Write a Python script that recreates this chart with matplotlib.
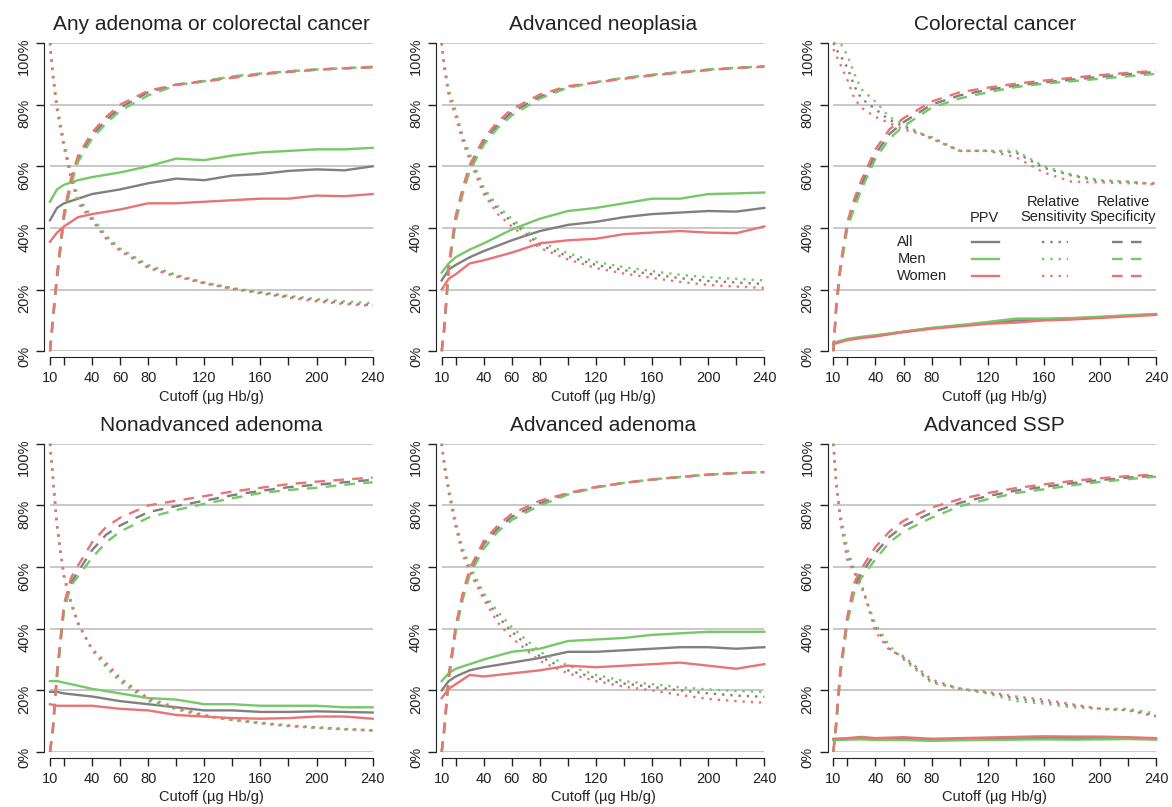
import matplotlib
matplotlib.use('Agg')
import matplotlib.pyplot as plt

plt.rcParams['font.family'] = ['Liberation Sans', 'DejaVu Sans']

# cutoffs (ug Hb/g) at which values were read
ss_cut = [10, 12, 15, 20, 25, 30, 40, 50, 60, 80, 100, 120, 140, 160, 180, 200, 220, 240]
ppv_cut = [10, 15, 20, 30, 40, 60, 80, 100, 120, 140, 160, 180, 200, 220, 240]

# Any adenoma or colorectal cancer
any_ppv_all = [42.5, 46.5, 48, 49.5, 51, 52.5, 54.5, 56, 55.5, 57, 57.5, 58.5, 59, 58.7, 60]
any_ppv_men = [48.5, 52.5, 54, 55.5, 56.5, 58, 60, 62.5, 62, 63.5, 64.5, 65, 65.5, 65.5, 66]
any_ppv_women = [35.5, 38.5, 40.5, 43.5, 44.5, 46, 48, 48, 48.5, 49, 49.5, 49.5, 50.5, 50.3, 51]
any_sens_all = [100, 90, 79, 67, 57, 49, 43, 37, 33, 27.5, 24.5, 22.2, 20.4, 19, 17.7, 16.6, 15.7, 15]
any_sens_men = [100, 91, 80, 68, 58, 50, 43.5, 37.5, 33.3, 28, 24.8, 22.3, 20.5, 19.2, 18, 17, 16.2, 15.6]
any_sens_women = [100, 89, 78, 66, 56, 48, 42.5, 36.5, 32.5, 27, 24.2, 22, 20.2, 18.8, 17.4, 16.2, 15.3, 14.7]
any_spec_all = [0, 10, 24, 44, 55, 62.5, 70, 75, 79, 84, 86.5, 87.7, 89, 90, 90.8, 91.4, 91.8, 92.2]
any_spec_men = [0, 9, 23, 43, 54, 61.5, 69, 74, 78, 83, 86.3, 87.6, 89.2, 90.1, 90.8, 91.4, 91.8, 92.3]
any_spec_women = [0, 11, 25, 45, 56, 63.5, 71, 76, 80, 84.5, 86.5, 87.5, 88.7, 89.8, 90.6, 91.3, 91.8, 92.1]

# Advanced neoplasia
neo_ppv_all = [23, 26.5, 28, 30.5, 32.5, 36, 39, 41, 42, 43.5, 44.5, 45, 45.5, 45.3, 46.5]
neo_ppv_men = [25.5, 28.5, 30.5, 33, 35, 39.5, 43, 45.5, 46.5, 48, 49.5, 49.5, 51, 51.2, 51.5]
neo_ppv_women = [20, 23.5, 25, 28.5, 29.5, 32, 35, 36, 36.5, 38, 38.5, 39, 38.5, 38.3, 40.5]
neo_sens_all = [100, 92, 84, 77, 69, 63, 52, 46, 42, 34.5, 30.8, 28, 26.3, 25, 23.7, 22.8, 22.3, 21.8]
neo_sens_men = [100, 93, 85, 78, 70, 64, 53, 47, 43, 35.5, 31.8, 29, 27.3, 26, 24.8, 24, 23.5, 23]
neo_sens_women = [100, 91, 83, 76, 68, 62, 51, 44.5, 40.5, 33.5, 29.8, 27, 25.2, 23.8, 22.5, 21.5, 21, 20.5]
neo_spec_all = [0, 8, 27, 43, 52, 59.5, 68, 73.5, 77.5, 82.6, 85.7, 87.3, 88.6, 89.6, 90.5, 91.3, 91.9, 92.4]
neo_spec_men = [0, 7, 26, 42, 51, 58.5, 67, 72.5, 76.5, 82, 85.5, 87.3, 88.7, 89.7, 90.6, 91.4, 92, 92.4]
neo_spec_women = [0, 9, 28, 44, 53, 60.5, 69, 74.5, 78.5, 83.3, 86, 87.2, 88.4, 89.5, 90.4, 91.2, 91.9, 92.3]

# Colorectal cancer
crc_ppv_all = [2.5, 3.2, 3.8, 4.5, 5, 6.3, 7.5, 8.3, 9.2, 10, 10.3, 10.6, 11, 11.5, 12]
crc_ppv_men = [2.7, 3.4, 4, 4.7, 5.2, 6.4, 7.6, 8.5, 9.5, 10.6, 10.6, 10.8, 11.2, 11.7, 12.1]
crc_ppv_women = [2.3, 3, 3.6, 4.3, 4.8, 6.2, 7.3, 8.1, 8.9, 9.3, 10, 10.3, 10.8, 11.3, 11.8]
crc_sens_all = [100, 98, 96, 92, 86, 82, 78.5, 75, 73, 69, 65, 65, 64.5, 59.5, 57, 55.2, 55, 54.3]
crc_sens_men = [100, 100, 100, 96, 90, 85, 81, 76, 73.5, 69, 65, 65, 65, 60, 57.3, 55.5, 55, 54]
crc_sens_women = [98, 96, 93, 88, 82, 79, 76, 74, 72, 69.5, 65, 65, 63, 58, 55, 54.8, 54.5, 54.5]
crc_spec_all = [0, 14, 27, 41, 48, 54, 64, 70.5, 74.3, 80, 83, 84.8, 86.2, 87.2, 88.1, 89, 89.9, 90.6]
crc_spec_men = [0, 13, 26, 40, 46.5, 52.5, 62.5, 69, 73, 79, 82, 84, 85.7, 86.8, 87.6, 88.4, 89.2, 90]
crc_spec_women = [0, 15, 28, 42, 49.5, 55.5, 65.5, 72, 75.6, 81, 84, 85.5, 86.8, 87.8, 88.7, 89.6, 90.3, 91]

# Nonadvanced adenoma
non_ppv_all = [19.5, 19.5, 19, 18.5, 18, 16.5, 15.5, 14.5, 13.5, 13.5, 13, 13, 13.2, 13, 12.8]
non_ppv_men = [23, 23, 22.5, 21.5, 20.5, 19, 17.5, 17, 15.5, 15.5, 15, 15, 15, 14.5, 14.5]
non_ppv_women = [15.5, 15, 15, 15, 15, 14, 13.5, 12, 11.5, 11, 10.8, 11, 11.5, 11.5, 10.8]
non_sens_all = [100, 89.5, 73.5, 57, 48.5, 41.8, 33.2, 28.2, 23.3, 17, 14.1, 11.8, 10.4, 9.4, 8.5, 7.9, 7.4, 7]
non_sens_men = [100, 90, 74, 57.5, 49, 42, 33, 27.5, 22.8, 16.5, 13.8, 11.6, 10.3, 9.3, 8.4, 7.8, 7.3, 7]
non_sens_women = [100, 89, 73, 56.5, 48, 41.5, 33.5, 29, 24, 17.5, 14.5, 12, 10.5, 9.5, 8.6, 8, 7.5, 7]
non_spec_all = [0, 7, 25, 47, 55, 58.5, 65.5, 70.5, 73.5, 77.8, 79.8, 81.5, 83.3, 84.7, 85.9, 86.7, 87.5, 88.3]
non_spec_men = [0, 6, 24, 46, 54, 57, 63, 68, 71.5, 76, 78.5, 80.5, 82.3, 84, 85, 85.7, 86.7, 87.5]
non_spec_women = [0, 8, 26, 48, 56.5, 60.5, 68, 73, 76, 80, 81.5, 83, 84.5, 85.7, 86.9, 87.7, 88.4, 89]

# Advanced adenoma
ada_ppv_all = [20, 23, 24.5, 26.5, 27.5, 29, 30.5, 32.5, 32.5, 33, 33.5, 34, 34, 33.5, 34]
ada_ppv_men = [23, 25.5, 27, 28.5, 30, 32.5, 33.5, 36, 36.5, 37, 38, 38.5, 39, 39, 39]
ada_ppv_women = [17.5, 20.5, 22, 25, 24.5, 25.5, 26.5, 28, 27.5, 28, 28.5, 29, 28, 27, 28.5]
ada_sens_all = [100, 93, 85, 74, 65, 59.5, 50.5, 44, 39, 31, 26.5, 24, 22.2, 21.1, 20, 19, 18.3, 17.9]
ada_sens_men = [100, 94, 86, 75, 66, 60.5, 51.5, 45.5, 40.5, 32.5, 28, 25, 23, 22, 21, 20.3, 19.8, 19.5]
ada_sens_women = [100, 92, 84, 73, 64, 58.5, 49.5, 42, 37, 29.5, 25.5, 23, 21.2, 20, 18.5, 17.2, 16.5, 16]
ada_spec_all = [0, 8, 24, 40, 50.5, 58.5, 67.5, 72.5, 76.3, 80.7, 83.8, 85.9, 87.3, 88.4, 89.2, 90, 90.5, 90.8]
ada_spec_men = [0, 7, 23, 39, 49.5, 57.5, 66, 71.5, 75.3, 80, 83.5, 85.8, 87.3, 88.4, 89.2, 90, 90.5, 90.8]
ada_spec_women = [0, 9, 25, 41, 51.5, 59.5, 68.5, 73.5, 77.3, 81.5, 84, 86, 87.3, 88.4, 89.2, 90, 90.5, 90.8]

# Advanced SSP
ssp_ppv_all = [4, 4.1, 4.2, 4.4, 4.2, 4.4, 4, 4.2, 4.3, 4.4, 4.6, 4.5, 4.5, 4.5, 4.2]
ssp_ppv_men = [3.8, 3.9, 4, 4.1, 3.9, 3.9, 3.6, 3.8, 3.9, 4, 4.1, 4, 4.1, 4.2, 4]
ssp_ppv_women = [4.3, 4.4, 4.5, 4.9, 4.5, 4.8, 4.3, 4.5, 4.7, 4.9, 5.1, 5, 5, 4.8, 4.5]
ssp_sens_all = [100, 88, 76, 64, 58.5, 54, 40.5, 33.5, 30.5, 22.8, 20.6, 19.2, 17.4, 16.3, 15.1, 14, 13.7, 11.9]
ssp_sens_men = [100, 88, 77, 66, 59, 53.5, 41.5, 34.5, 30, 22.5, 20.5, 19, 16.5, 15.7, 14.5, 14, 14, 12.5]
ssp_sens_women = [100, 87, 75, 62, 58, 54.5, 39, 33, 31, 23.5, 20.5, 19.5, 18, 17, 15.5, 14, 13.5, 11.5]
ssp_spec_all = [0, 9, 26, 43, 53.5, 58, 64.5, 69.8, 73.3, 77.6, 80.8, 83, 84.8, 86, 87.2, 88.2, 89, 89.6]
ssp_spec_men = [0, 8, 25, 42, 52, 56.5, 62.5, 68, 71.5, 76, 79.7, 82, 84, 85.2, 86.5, 87.6, 88.5, 89.3]
ssp_spec_women = [0, 10, 27, 44, 55, 59.5, 66.5, 71.5, 75, 79.3, 82, 84, 85.6, 86.8, 87.9, 88.8, 89.5, 90]

groups = ['All', 'Men', 'Women']
colors = ['#808080', '#76c868', '#e87474']
dot = (1, 2.5)
dash = (4.5, 3.5)

panels = [
    ('Any adenoma or colorectal cancer',
     [any_ppv_all, any_ppv_men, any_ppv_women],
     [any_sens_all, any_sens_men, any_sens_women],
     [any_spec_all, any_spec_men, any_spec_women]),
    ('Advanced neoplasia',
     [neo_ppv_all, neo_ppv_men, neo_ppv_women],
     [neo_sens_all, neo_sens_men, neo_sens_women],
     [neo_spec_all, neo_spec_men, neo_spec_women]),
    ('Colorectal cancer',
     [crc_ppv_all, crc_ppv_men, crc_ppv_women],
     [crc_sens_all, crc_sens_men, crc_sens_women],
     [crc_spec_all, crc_spec_men, crc_spec_women]),
    ('Nonadvanced adenoma',
     [non_ppv_all, non_ppv_men, non_ppv_women],
     [non_sens_all, non_sens_men, non_sens_women],
     [non_spec_all, non_spec_men, non_spec_women]),
    ('Advanced adenoma',
     [ada_ppv_all, ada_ppv_men, ada_ppv_women],
     [ada_sens_all, ada_sens_men, ada_sens_women],
     [ada_spec_all, ada_spec_men, ada_spec_women]),
    ('Advanced SSP',
     [ssp_ppv_all, ssp_ppv_men, ssp_ppv_women],
     [ssp_sens_all, ssp_sens_men, ssp_sens_women],
     [ssp_spec_all, ssp_spec_men, ssp_spec_women]),
]

xticks = [10, 20, 40, 60, 80, 100, 120, 140, 160, 180, 200, 220, 240]
xlabels = ['10', '', '40', '60', '80', '', '120', '', '160', '', '200', '', '240']
yticks = [0, 20, 40, 60, 80, 100]

fig, axes = plt.subplots(2, 3, figsize=(11.72, 8.07), dpi=100)
fig.subplots_adjust(left=50/1172, right=1156/1172, top=1-43/807, bottom=1-752/807,
                    wspace=0.214, hspace=0.30)

for ax, (title, ppv, sens, spec) in zip(axes.flat, panels):
    ax.grid(axis='y', color='#c8c8c8', lw=1.4)
    ax.set_axisbelow(True)
    for i in range(3):
        ax.plot(ppv_cut, ppv[i], color=colors[i], lw=1.7, clip_on=False)
        ax.plot(ss_cut, sens[i], color=colors[i], lw=1.7, dashes=dot, clip_on=False)
        ax.plot(ss_cut, spec[i], color=colors[i], lw=1.7, dashes=dash, clip_on=False)

    ax.set_xlim(10, 240)
    ax.set_ylim(0, 100)
    ax.set_xticks(xticks)
    ax.set_xticklabels(xlabels)
    ax.set_yticks(yticks)
    ax.set_yticklabels(['{}%'.format(v) for v in yticks])
    ax.tick_params(axis='both', direction='out', length=5.5, width=1, color='#222222',
                   labelcolor='#222222', labelsize=10.5)
    ax.tick_params(axis='x', pad=5)
    ax.tick_params(axis='y', pad=4, labelrotation=90)
    for lab in ax.get_yticklabels():
        lab.set_verticalalignment('center')
    for side in ['top', 'right']:
        ax.spines[side].set_visible(False)
    ax.spines['left'].set_position(('outward', 4))
    ax.spines['bottom'].set_position(('outward', 4))
    ax.spines['left'].set_bounds(0, 100)
    ax.spines['bottom'].set_bounds(10, 240)
    ax.spines['left'].set_color('#222222')
    ax.spines['bottom'].set_color('#222222')
    ax.set_xlabel('Cutoff (\u00b5g Hb/g)', fontsize=10.5, color='#222222', labelpad=3)
    ax.set_title(title, fontsize=15, color='#222222', pad=9)

# legend drawn inside the colorectal cancer panel
ax = axes[0, 2]
def fx(px):
    return (px - 833) / 323
def fy(py):
    return (351 - py) / 308

tr = ax.transAxes
ax.text(fx(984), fy(218), 'PPV', transform=tr, ha='center', va='center', fontsize=10.5, color='#222222')
ax.text(fx(1053), fy(209.5), 'Relative\nSensitivity', transform=tr, ha='center', va='center',
        fontsize=10.5, color='#222222', linespacing=1.15)
ax.text(fx(1123), fy(209.5), 'Relative\nSpecificity', transform=tr, ha='center', va='center',
        fontsize=10.5, color='#222222', linespacing=1.15)
for i, g in enumerate(groups):
    yy = fy(241.5 + 17 * i)
    ax.text(fx(897), yy, g, transform=tr, ha='left', va='center', fontsize=10.5, color='#222222')
    ax.plot([fx(972), fx(999)], [yy, yy], transform=tr, color=colors[i], lw=1.7, clip_on=False)
    ax.plot([fx(1042), fx(1068)], [yy, yy], transform=tr, color=colors[i], lw=1.7, dashes=dot, clip_on=False)
    ax.plot([fx(1112), fx(1142)], [yy, yy], transform=tr, color=colors[i], lw=1.7, dashes=dash, clip_on=False)

fig.savefig('out.png', dpi=100)
